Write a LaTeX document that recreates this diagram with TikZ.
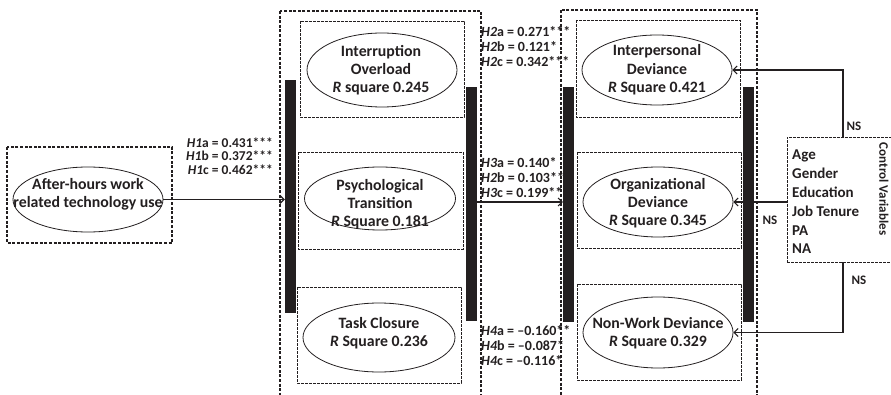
\documentclass[tikz,border=0pt]{standalone}
\usepackage{fontspec}
\setmainfont{Carlito}
\usepackage{xcolor}
\usetikzlibrary{arrows.meta, shapes.geometric, positioning}
\definecolor{ink}{RGB}{35,31,32}

\begin{document}
\begin{tikzpicture}[
    x=1pt, y=-1pt,
    font=\bfseries, text=ink,
    outer/.style = {draw=ink, line width=1.3pt, dash pattern=on 3pt off 1.6pt},
    inner/.style = {draw=ink, line width=0.9pt, dash pattern=on 2.6pt off 1.4pt},
    oval/.style  = {ellipse, draw=ink, line width=0.8pt, inner sep=0pt},
    txt/.style   = {align=center, inner sep=0pt,
                    font=\bfseries\fontsize{15.8}{18.3}\selectfont},
    hyp/.style   = {inner sep=0pt, font=\bfseries\fontsize{14}{15}\selectfont},
    bar/.style   = {fill=ink, inner sep=0pt, minimum width=11pt},
    ns/.style    = {inner sep=0pt, font=\bfseries\fontsize{13}{14}\selectfont},
    arr/.style   = {draw=ink, line width=1.1pt,
                    -{Straight Barb[length=4pt, width=8pt]}},
                    ]
    \useasboundingbox (0,0) rectangle (891,395);
    \clip (0,0) rectangle (891,395);

    % group frames
    \draw[outer] (7,147) rectangle (172,243);
    \draw[outer] (280,11) rectangle (481,400);
    \draw[outer] (561,10) rectangle (757,400);

    % mediators
    \draw[inner] (300,21) rectangle (464,117);
    \draw[inner] (298,152) rectangle (463,249);
    \draw[inner] (297,287) rectangle (461,383);
    % outcomes
    \draw[inner] (576,20) rectangle (740,117);
    \draw[inner] (577,152) rectangle (741,248);
    \draw[inner] (577,284) rectangle (741,380);

    % bars
    \node (mbarL) [bar, minimum height=233pt] at (290.5,196.5) {};
    \node (mbarR) [bar, minimum height=234pt] at (471.5,204) {};
    \node (rbarL) [bar, minimum height=235pt] at (568.5,204.5) {};
    \node (rbarR) [bar, minimum height=235pt] at (748.5,204.5) {};

    % ellipses
    \node (use) [oval, minimum width=150pt, minimum height=65pt] at (88,199.5) {};
    \node (io)  [oval, minimum width=150pt, minimum height=74pt] at (382,70) {};
    \node (pt)  [oval, minimum width=151pt, minimum height=63pt] at (380,198.5) {};
    \node (tc)  [oval, minimum width=152pt, minimum height=69pt] at (379,337.5) {};
    \node (id)  [oval, minimum width=150pt, minimum height=70pt] at (657,70) {};
    \node (od)  [oval, minimum width=150pt, minimum height=70pt] at (658,202) {};
    \node (nw)  [oval, minimum width=150pt, minimum height=71pt] at (658,332.5) {};

    \node (use-t) [txt] at (88,194)   {After-hours work\\related technology use};
    \node (io-t)  [txt] at (381,70)   {Interruption\\Overload\\\textit{R} square 0.245};
    \node (pt-t)  [txt] at (380,204)  {Psychological\\Transition\\\textit{R} Square 0.181};
    \node (tc-t)  [txt] at (379,333.5){Task Closure\\\textit{R} Square 0.236};
    \node (id-t)  [txt] at (657,70)   {Interpersonal\\Deviance\\\textit{R} Square 0.421};
    \node (od-t)  [txt] at (658,203)  {Organizational\\Deviance\\\textit{R} Square 0.345};
    \node (nw-t)  [txt] at (658,333.5){Non-Work Deviance\\\textit{R} Square 0.329};

    % controls
    \node (ctrl) [inner, inner sep=0pt, minimum width=108pt, minimum height=125pt]
          at (841,199.5) {};
    \node (ctrl-t) [txt, align=left, anchor=west,
          font=\bfseries\fontsize{15}{18.8}\selectfont] at (792,202)
          {Age\\Gender\\Education\\Job Tenure\\PA\\NA};
    \node (ctrl-h) [hyp, rotate=-90, font=\bfseries\fontsize{13}{14}\selectfont]
          at (884,189) {Control Variables};

    % paths
    \draw[arr] (use.east) -- (use.east -| mbarL.west);
    \draw[arr] (mbarR.east |- od) -- (rbarL.west |- od);
    \draw[arr] ([xshift=2pt]ctrl.north) |- (id.east);
    \draw[arr] (ctrl.west |- od.east) -- (od.east);
    \draw[arr] ([xshift=2pt]ctrl.south) |- (nw.east);

    % coefficients
    \node (h1) [hyp, align=right, anchor=east,
          font=\bfseries\fontsize{13.5}{13.5}\selectfont] at (273,156)
          {\textit{H1}a = 0.431***\\\textit{H1}b = 0.372***\\\textit{H1}c = 0.462***};
    \node (h2) [hyp, align=left, anchor=west] at (481,47)
          {\textit{H2}a = 0.271***\\\textit{H2}b = 0.121*\\\textit{H2}c = 0.342***};
    \node (h3) [hyp, align=left, anchor=west] at (481,178)
          {\textit{H3}a = 0.140*\\\textit{H2}b = 0.103**\\\textit{H3}c = 0.199***};
    \node (h4) [hyp, align=left, anchor=west] at (481,346)
          {\textit{H4}a = --0.160**\\\textit{H4}b = --0.087*\\\textit{H4}c = --0.116*};

    \node (ns1) [ns] at (854,126) {NS};
    \node (ns2) [ns] at (770,220) {NS};
    \node (ns3) [ns] at (859,280) {NS};
\end{tikzpicture}
\end{document}
